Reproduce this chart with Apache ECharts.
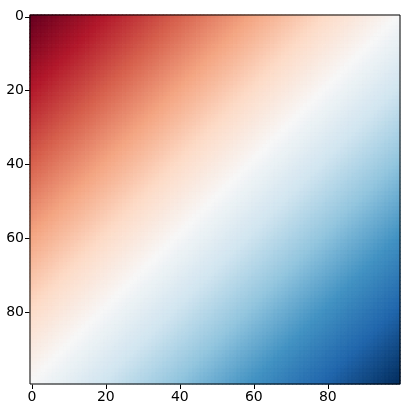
<!DOCTYPE html>
<html><head><meta charset="utf-8">
<script src="https://cdn.jsdelivr.net/npm/echarts@6/dist/echarts.min.js"></script>
<style>html,body{margin:0;padding:0;background:#fff;}#c{width:408px;height:418px;}</style>
</head><body><div id="c"></div>
<script>
// Row / column contributions (value increases evenly along each axis)
const rowValues = [0,1,2,3,4,5,6,7,8,9,10,11,12,13,14,15,16,17,18,19,20,21,22,23,24,25,26,27,28,29,30,31,32,33,34,35,36,37,38,39,40,41,42,43,44,45,46,47,48,49,50,51,52,53,54,55,56,57,58,59,60,61,62,63,64,65,66,67,68,69,70,71,72,73,74,75,76,77,78,79,80,81,82,83,84,85,86,87,88,89,90,91,92,93,94,95,96,97,98,99];
const colValues = [0,1,2,3,4,5,6,7,8,9,10,11,12,13,14,15,16,17,18,19,20,21,22,23,24,25,26,27,28,29,30,31,32,33,34,35,36,37,38,39,40,41,42,43,44,45,46,47,48,49,50,51,52,53,54,55,56,57,58,59,60,61,62,63,64,65,66,67,68,69,70,71,72,73,74,75,76,77,78,79,80,81,82,83,84,85,86,87,88,89,90,91,92,93,94,95,96,97,98,99];
const xCategories = colValues.map(String);
const yCategories = rowValues.map(String);
const rdbu = ['#67001f','#b2182b','#d6604d','#f4a582','#fddbc7','#f7f7f7','#d1e5f0','#92c5de','#4393c3','#2166ac','#053061'];

const vmin = rowValues[0] + colValues[0];
const vmax = rowValues[rowValues.length-1] + colValues[colValues.length-1];
const data = [];
for (let i = 0; i < rowValues.length; i++) {
  for (let j = 0; j < colValues.length; j++) {
    const v = rowValues[i] + colValues[j];
    const c = echarts.color.lerp((v - vmin) / (vmax - vmin), rdbu);
    data.push({value: [j, i, v], itemStyle: {color: c, borderColor: c, borderWidth: 0.6}});
  }
}

const chart = echarts.init(document.getElementById('c'), null, {renderer: 'canvas'});
const axisCommon = {
  type: 'category',
  axisLine: {show: false},
  axisTick: {show: true, interval: 19, alignWithLabel: true, length: 5, lineStyle: {color: '#000', width: 1}},
  axisLabel: {interval: 19, color: '#000', fontSize: 14, fontFamily: 'DejaVu Sans', margin: 6},
  splitLine: {show: false}
};
chart.setOption({
  animation: false,
  grid: {left: 30, top: 15, width: 370, height: 369, show: true, borderColor: '#000', borderWidth: 1, backgroundColor: 'transparent', z: 10},
  xAxis: Object.assign({}, axisCommon, {data: xCategories, position: 'bottom'}),
  yAxis: Object.assign({}, axisCommon, {data: yCategories, inverse: true}),
  series: [{
    type: 'heatmap',
    data: data,
    progressive: 0,
    emphasis: {disabled: true}
  }]
});
</script></body></html>
